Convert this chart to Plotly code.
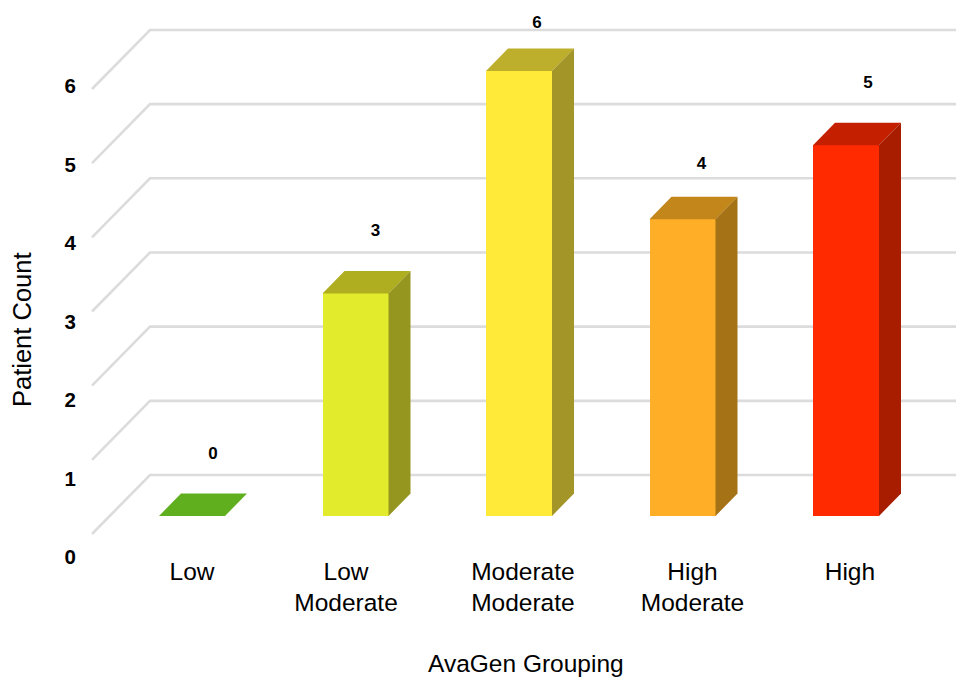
import plotly.graph_objects as go

categories = ["Low", "Low<br>Moderate", "Moderate<br>Moderate", "High<br>Moderate", "High"]
patient_counts = [0, 3, 6, 4, 5]
y_tick_values = [0, 1, 2, 3, 4, 5, 6]
front_colors = ["#5FAF1F", "#E3EC2C", "#FFEA3A", "#FFAE27", "#FF2A00"]
side_colors = ["#5FAF1F", "#95961F", "#A39528", "#A57316", "#A81C00"]
top_colors = ["#5FAF1F", "#AFAE20", "#BDAE2C", "#C2861A", "#C42000"]
label_lift = [0.83, 0.83, 0.64, 0.74, 0.83]
label_nudge = [0.128, 0.122, 0.11, 0.116, 0.134]
category_label_nudge = [0, -0.058, 0.024, 0.061, 0.024]

FONT = "Liberation Sans, Arial, sans-serif"
W, H = 956, 677
LEFT, BOTTOM_PX = 77, 560
UX, UY = 163.5, 74.17      # px per category, px per count
X0_PX, Y0_PX = 192, 516    # px of first category, px of count zero
BAR_W = 66 / UX
DX, DY = 22 / UX, 22.5 / UY
GRID_BACK_X, GRID_FRONT_X = (150 - X0_PX) / UX, (92 - X0_PX) / UX
GRID_BACK_Y, GRID_FRONT_Y = (Y0_PX - 475) / UY, (Y0_PX - 534) / UY
X_END = (W - X0_PX) / UX
Y_RANGE = [(Y0_PX - BOTTOM_PX) / UY, Y0_PX / UY]

x_pos = list(range(len(categories)))
fig = go.Figure()

# Floor and wall gridlines (base axis, behind every overlay)
gx, gy = [], []
for v in y_tick_values:
    gx += [GRID_FRONT_X, GRID_BACK_X, X_END, None]
    gy += [v + GRID_FRONT_Y, v + GRID_BACK_Y, v + GRID_BACK_Y, None]
fig.add_trace(go.Scatter(x=gx, y=gy, mode="lines", line=dict(color="#DCDCDC", width=2.6),
                         hoverinfo="skip", showlegend=False))

# Axis that only carries the tick labels
fig.add_trace(go.Scatter(x=[None], y=[None], yaxis="y2", showlegend=False))

# Front faces
fig.add_trace(go.Bar(x=x_pos, y=patient_counts, width=BAR_W, yaxis="y3",
                     marker=dict(color=front_colors, line=dict(width=0)), showlegend=False))

# Top and side faces derived from the values
for i, v in zip(x_pos, patient_counts):
    l, r = i - BAR_W / 2, i + BAR_W / 2
    fig.add_trace(go.Scatter(x=[l, r, r + DX, l + DX, l], y=[v, v, v + DY, v + DY, v], yaxis="y3",
                             mode="lines", fill="toself", fillcolor=top_colors[i],
                             line=dict(width=0), hoverinfo="skip", showlegend=False))
    if v > 0:
        fig.add_trace(go.Scatter(x=[r, r + DX, r + DX, r, r], y=[0, DY, v + DY, v, 0], yaxis="y3",
                                 mode="lines", fill="toself", fillcolor=side_colors[i],
                                 line=dict(width=0), hoverinfo="skip", showlegend=False))

# Value labels
fig.add_trace(go.Scatter(x=[i + n for i, n in zip(x_pos, label_nudge)],
                         y=[v + d for v, d in zip(patient_counts, label_lift)], yaxis="y3",
                         mode="text", text=[str(v) for v in patient_counts],
                         textposition="middle center", cliponaxis=False,
                         textfont=dict(family=FONT, size=17, color="#000000", weight="bold"),
                         showlegend=False))

fig.update_layout(
    width=W, height=H, autosize=False,
    margin=dict(l=LEFT, r=0, t=0, b=H - BOTTOM_PX),
    paper_bgcolor="white", plot_bgcolor="rgba(0,0,0,0)", bargap=0,
    xaxis=dict(range=[(LEFT - X0_PX) / UX, X_END], tickmode="array",
               tickvals=[i + n for i, n in zip(x_pos, category_label_nudge)], ticktext=categories,
               showgrid=False, zeroline=False, showline=False, ticks="", ticklabelstandoff=-6,
               tickfont=dict(family=FONT, size=24.5, color="#000000")),
    yaxis=dict(range=Y_RANGE, visible=False, fixedrange=True),
    yaxis2=dict(overlaying="y", side="left", anchor="x",
                range=[(557 - BOTTOM_PX) / 78.5, 557 / 78.5], tickmode="array", tickvals=y_tick_values,
                showgrid=False, zeroline=False, showline=False, ticks="",
                tickfont=dict(family=FONT, size=20.5, color="#000000", weight="bold")),
    yaxis3=dict(overlaying="y", range=Y_RANGE, visible=False, fixedrange=True),
    annotations=[
        dict(text="AvaGen Grouping", xref="paper", yref="paper", showarrow=False,
             x=(525.5 - LEFT) / (W - LEFT), y=(BOTTOM_PX - 663) / BOTTOM_PX,
             xanchor="center", yanchor="middle", font=dict(family=FONT, size=24.5, color="#000000")),
        dict(text="Patient Count", xref="paper", yref="paper", showarrow=False, textangle=-90,
             x=(22 - LEFT) / (W - LEFT), y=(BOTTOM_PX - 330) / BOTTOM_PX,
             xanchor="center", yanchor="middle", font=dict(family=FONT, size=25.5, color="#000000")),
    ],
)
fig.write_html("out.html", config=dict(displayModeBar=False),
               post_script="document.body.style.margin='0';")
